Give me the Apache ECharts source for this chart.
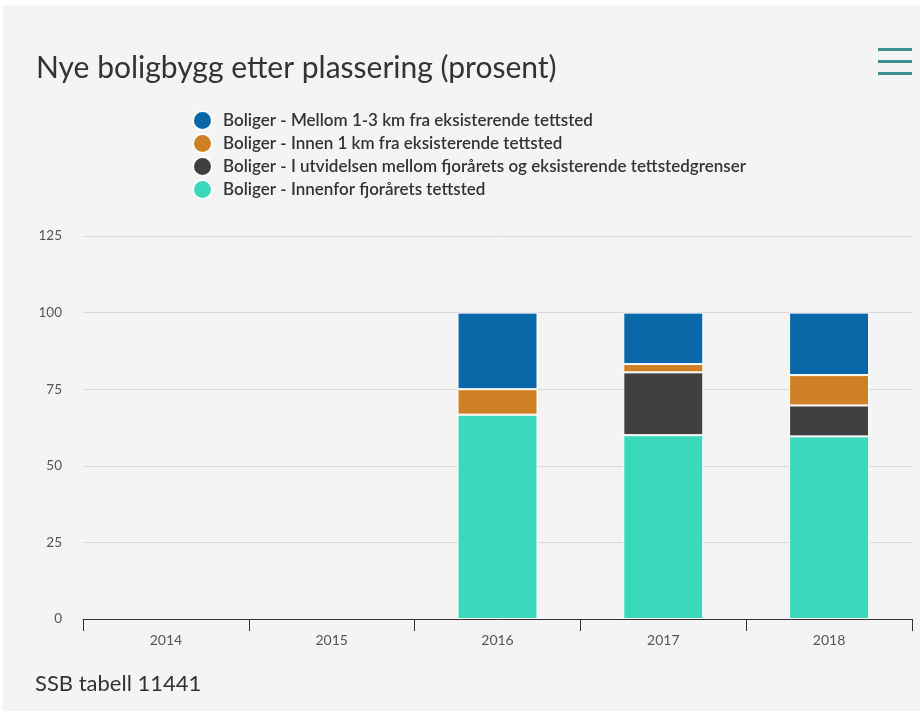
<!DOCTYPE html>
<html>
<head>
<meta charset="utf-8">
<title>Nye boligbygg etter plassering</title>
<script src="https://cdn.jsdelivr.net/npm/echarts@6/dist/echarts.min.js"></script>
<style>
  html, body { margin: 0; padding: 0; background: #fff; }
  #chart { width: 923px; height: 713px; }
</style>
</head>
<body>
<div id="chart"></div>
<script>
// år og andeler (prosent), lest av figuren
var years = ['2014', '2015', '2016', '2017', '2018'];
var innenfor = [null, null, 66.7, 60.0, 59.6];
var utvidelsen = [null, null, 0, 20.5, 10.1];
var innen1km = [null, null, 8.3, 2.7, 9.9];
var mellom13km = [null, null, 25.0, 16.8, 20.4];

var names = [
    'Boliger - Mellom 1-3 km fra eksisterende tettsted',
    'Boliger - Innen 1 km fra eksisterende tettsted',
    'Boliger - I utvidelsen mellom fjorårets og eksisterende tettstedgrenser',
    'Boliger - Innenfor fjorårets tettsted'
];
var colors = ['#0b68a8', '#d08024', '#404040', '#3ad9bc'];

var myChart = echarts.init(document.getElementById('chart'));

function bar(name, data, color) {
    return {
        name: name,
        type: 'bar',
        stack: 'total',
        data: data,
        barWidth: 80,
        itemStyle: {
            color: color,
            borderColor: '#ffffff',
            borderWidth: 1
        }
    };
}

var option = {
    backgroundColor: '#ffffff',
    animation: false,
    textStyle: { fontFamily: 'Lato' },
    graphic: [
        // panel
        { type: 'rect', z: -10, shape: { x: 3, y: 5, width: 917, height: 706 }, style: { fill: '#f4f4f4' } },
        // meny-ikon
        { type: 'rect', shape: { x: 878, y: 48, width: 34, height: 3 }, style: { fill: '#3a9190' } },
        { type: 'rect', shape: { x: 878, y: 60, width: 34, height: 3 }, style: { fill: '#3a9190' } },
        { type: 'rect', shape: { x: 878, y: 72, width: 34, height: 3 }, style: { fill: '#3a9190' } },
        {
            type: 'text', left: 35, top: 673,
            style: { text: 'SSB tabell 11441', fill: '#333', font: '22px Lato' }
        }
    ],
    title: {
        text: 'Nye boligbygg etter plassering (prosent)',
        left: 31,
        top: 48,
        textStyle: { fontFamily: 'Lato', fontSize: 30, fontWeight: 'normal', color: '#333' }
    },
    legend: {
        orient: 'vertical',
        left: 187,
        top: 105,
        itemGap: 2,
        icon: 'circle',
        itemWidth: 19,
        itemHeight: 19,
        data: names,
        textStyle: {
            fontFamily: 'Lato', fontSize: 17, lineHeight: 19, fontWeight: 600, color: '#333',
            padding: [0, 0, 0, 6]
        }
    },
    grid: { left: 83, right: 11, top: 236, bottom: 94 },
    xAxis: {
        type: 'category',
        data: years,
        axisLine: { lineStyle: { color: '#333', width: 1 } },
        axisTick: { show: true, length: 12, lineStyle: { color: '#333' } },
        axisLabel: { color: '#555', fontSize: 14, margin: 14 }
    },
    yAxis: {
        type: 'value',
        min: 0,
        max: 125,
        interval: 25,
        axisLine: { show: false },
        axisTick: { show: false },
        axisLabel: { color: '#555', fontSize: 13.5, margin: 21 },
        splitLine: { lineStyle: { color: '#d9d9d9' } }
    },
    series: [
        bar(names[3], innenfor, colors[3]),
        bar(names[2], utvidelsen, colors[2]),
        bar(names[1], innen1km, colors[1]),
        bar(names[0], mellom13km, colors[0])
    ],
    color: colors
};
myChart.setOption(option);
</script>
</body>
</html>
